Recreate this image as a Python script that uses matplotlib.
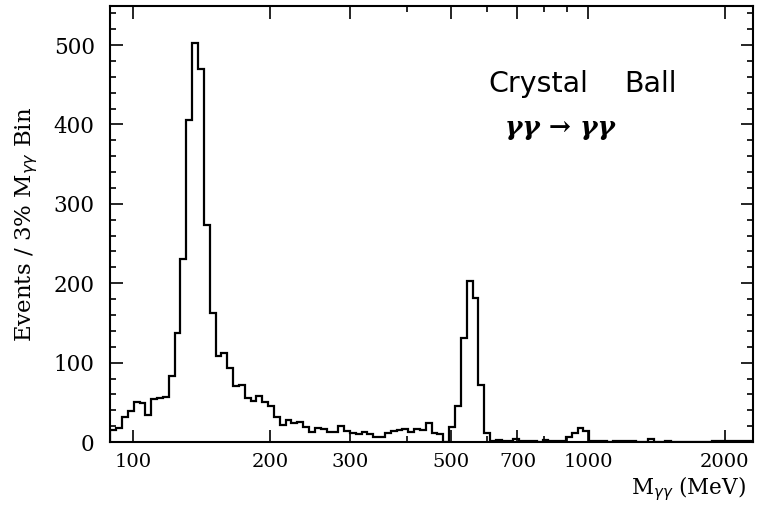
import numpy as np
import matplotlib
matplotlib.use("Agg")
import matplotlib.pyplot as plt
from matplotlib.ticker import FixedLocator, NullFormatter, MultipleLocator

# 3% bins in M_gg (MeV), first edge and ratio
first_edge = 89.2
bin_ratio = 1.03
counts = [
    15, 18, 31, 39, 50, 49, 34, 54, 55, 57,
    83, 138, 231, 405, 502, 470, 273, 162, 108, 112,
    93, 71, 72, 55, 52, 58, 50, 46, 31, 21,
    28, 24, 25, 19, 13, 18, 16, 13, 13, 20,
    14, 12, 10, 13, 10, 7, 6, 12, 14, 15,
    16, 13, 16, 15, 24, 12, 10, 0, 19, 45,
    131, 203, 181, 72, 11, 1, 3, 2, 2, 4,
    2, 1, 1, 0, 3, 1, 1, 2, 6, 11,
    18, 14, 2, 1, 1, 0, 1, 1, 1, 1,
    0, 0, 4, 0, 0, 1, 0, 0, 0, 0,
    0, 0, 0, 1, 2, 1, 1, 1, 1, 1,
]
edges = first_edge * bin_ratio ** np.arange(len(counts) + 1)

xmajor = [100, 200, 300, 400, 500, 600, 700, 800, 900, 1000, 2000]
xlabels_shown = [100, 200, 300, 500, 700, 1000, 2000]
yticks = [0, 100, 200, 300, 400, 500]

fig = plt.figure(figsize=(7.6, 5.07), dpi=100)
ax = fig.add_axes([0.1447, 0.128, 0.846, 0.860])
ax.stairs(counts, edges, color="black", linewidth=1.6)
ax.set_xscale("log")
ax.set_xlim(89.0, 2305)
ax.set_ylim(0, 549)

serif = "DejaVu Serif"
ax.xaxis.set_major_locator(FixedLocator(xlabels_shown))
ax.xaxis.set_minor_locator(FixedLocator([x for x in xmajor if x not in xlabels_shown]))
ax.xaxis.set_minor_formatter(NullFormatter())
ax.set_xticklabels([str(v) for v in xlabels_shown], fontfamily=serif, fontsize=14)
ax.yaxis.set_major_locator(FixedLocator(yticks))
ax.yaxis.set_minor_locator(MultipleLocator(20))
ax.set_yticklabels([str(v) for v in yticks], fontfamily=serif, fontsize=15.5)

ax.tick_params(which="both", direction="in", top=True, right=True, width=1.2)
ax.tick_params(which="major", length=9)
ax.tick_params(axis="x", which="major", pad=8)
ax.tick_params(axis="y", which="major", pad=11)
ax.tick_params(which="minor", length=4)
for s in ax.spines.values():
    s.set_linewidth(1.5)

ax.set_ylabel(r"Events / 3% M$_{\gamma\gamma}$ Bin", fontfamily=serif, fontsize=16.5, labelpad=10)
fig.text(0.981, 0.024, r"M$_{\gamma\gamma}$ (MeV)", ha="right", va="baseline",
         fontfamily=serif, fontsize=15.5)

ax.text(0.588, 0.8028, "Crystal", transform=ax.transAxes, fontsize=20.5,
        fontfamily="DejaVu Sans", ha="left", va="baseline")
ax.text(0.882, 0.8028, "Ball", transform=ax.transAxes, fontsize=20.5,
        fontfamily="DejaVu Sans", ha="right", va="baseline")
ax.text(0.70, 0.7225, "γγ → γγ", transform=ax.transAxes,
        fontsize=19, fontfamily=serif, fontstyle="italic", fontweight="bold",
        ha="center", va="center")

fig.savefig("out.png", dpi=100)
